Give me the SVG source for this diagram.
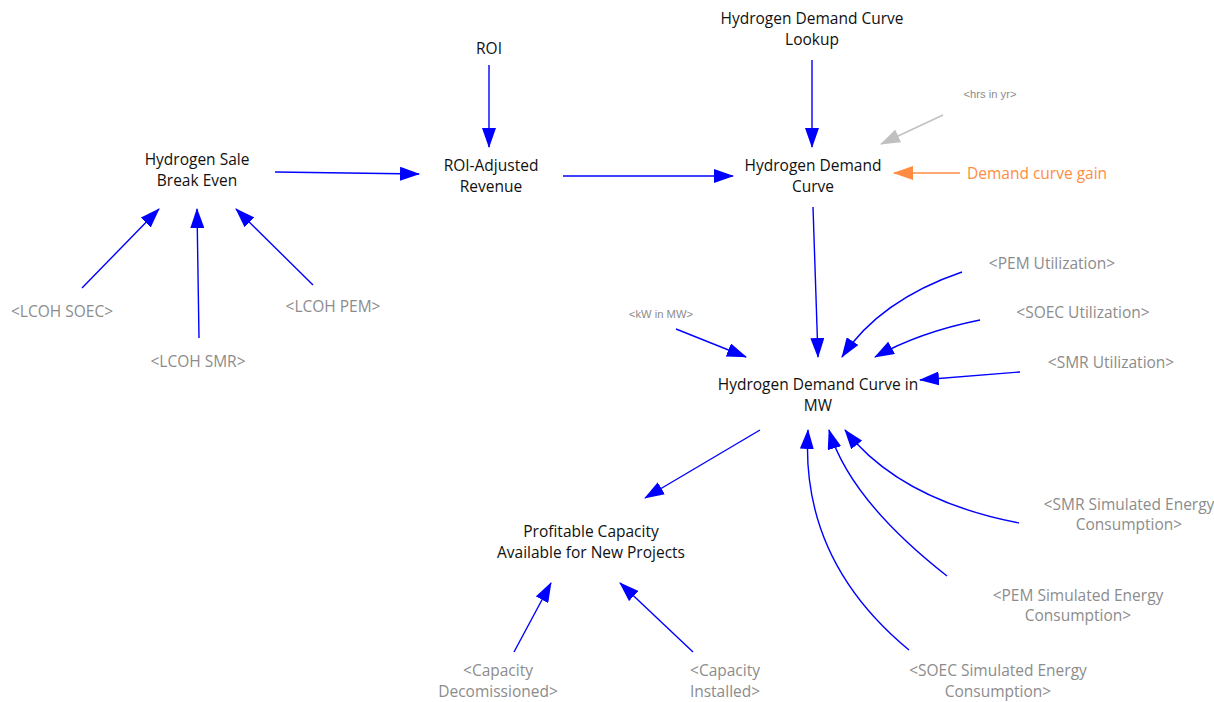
<svg xmlns="http://www.w3.org/2000/svg" width="1214" height="702" viewBox="0 0 1214 702">
<defs>
<style>
.t{font-family:"Open Sans","Liberation Sans",sans-serif;font-size:15.5px;fill:#111;text-anchor:middle}
.g{font-family:"Open Sans","Liberation Sans",sans-serif;font-size:15.5px;fill:#8c8c8c;text-anchor:middle}
.s{font-family:"Liberation Sans",Arial,sans-serif;font-size:11.2px;fill:#8c8c8c;text-anchor:middle}
.o{font-family:"Open Sans","Liberation Sans",sans-serif;font-size:15.5px;fill:#ff8c42;text-anchor:start}
.c{fill:none;stroke:#0000ff;stroke-width:1.4;marker-end:url(#ab)}
.cg{fill:none;stroke:#c0c0c0;stroke-width:1.4;marker-end:url(#ag)}
.co{fill:none;stroke:#ff8c42;stroke-width:1.4;marker-end:url(#ao)}
</style>
<marker id="ab" viewBox="0 0 20 14" refX="19" refY="7" markerWidth="20" markerHeight="14" markerUnits="userSpaceOnUse" orient="auto"><path d="M0,0 L20,7 L0,14 Z" fill="#0000ff"/></marker>
<marker id="ag" viewBox="0 0 20 14" refX="19" refY="7" markerWidth="20" markerHeight="14" markerUnits="userSpaceOnUse" orient="auto"><path d="M0,0 L20,7 L0,14 Z" fill="#c0c0c0"/></marker>
<marker id="ao" viewBox="0 0 20 14" refX="19" refY="7" markerWidth="20" markerHeight="14" markerUnits="userSpaceOnUse" orient="auto"><path d="M0,0 L20,7 L0,14 Z" fill="#ff8c42"/></marker>
</defs>
<rect width="1214" height="702" fill="#fff"/>
<g id="connectors">
<path class="c" d="M489,65 L489,147"/>
<path class="c" d="M812,60 L812,147"/>
<path class="cg" d="M943,115 L881,144"/>
<path class="co" d="M960,173 L894,173"/>
<path class="c" d="M275,172 L419,174"/>
<path class="c" d="M563,176 L733,176"/>
<path class="c" d="M82,288 L159,209"/>
<path class="c" d="M199,338 L197,209"/>
<path class="c" d="M313,285 L236,209"/>
<path class="c" d="M813,207 L818,357"/>
<path class="c" d="M676,329 L746,357"/>
<path class="c" d="M962,272 Q880,300 842,357"/>
<path class="c" d="M980,320 Q920,332 875,357"/>
<path class="c" d="M1020,372 L920,380"/>
<path class="c" d="M760,430 L645,498"/>
<path class="c" d="M514,652 L551,583"/>
<path class="c" d="M693,652 L620,583"/>
<path class="c" d="M1019,523 Q900,500 845,430"/>
<path class="c" d="M947,576 Q850,500 829,430"/>
<path class="c" d="M909,650 Q800,560 808,430"/>
</g>
<g id="roi"><text class="t" x="489" y="54">ROI</text></g>
<g id="roi-adjusted-revenue"><text class="t" x="491" y="171">ROI-Adjusted</text><text class="t" x="491" y="192">Revenue</text></g>
<g id="demand-curve-lookup"><text class="t" x="812" y="24">Hydrogen Demand Curve</text><text class="t" x="812" y="45">Lookup</text></g>
<g id="demand-curve"><text class="t" x="813" y="171">Hydrogen Demand</text><text class="t" x="813" y="192">Curve</text></g>
<g id="hrs-in-yr"><text class="s" x="990" y="98">&lt;hrs in yr&gt;</text></g>
<g id="demand-curve-gain"><text class="o" x="967" y="179">Demand curve gain</text></g>
<g id="sale-break-even"><text class="t" x="197" y="165">Hydrogen Sale</text><text class="t" x="197" y="186">Break Even</text></g>
<g id="lcoh-soec"><text class="g" x="62" y="317">&lt;LCOH SOEC&gt;</text></g>
<g id="lcoh-smr"><text class="g" x="198" y="367">&lt;LCOH SMR&gt;</text></g>
<g id="lcoh-pem"><text class="g" x="333" y="312">&lt;LCOH PEM&gt;</text></g>
<g id="demand-mw"><text class="t" x="818" y="390">Hydrogen Demand Curve in</text><text class="t" x="818" y="411">MW</text></g>
<g id="kw-in-mw"><text class="s" x="661" y="318">&lt;kW in MW&gt;</text></g>
<g id="pem-util"><text class="g" x="1052" y="269">&lt;PEM Utilization&gt;</text></g>
<g id="soec-util"><text class="g" x="1083" y="318">&lt;SOEC Utilization&gt;</text></g>
<g id="smr-util"><text class="g" x="1111" y="368">&lt;SMR Utilization&gt;</text></g>
<g id="profitable"><text class="t" x="591" y="537">Profitable Capacity</text><text class="t" x="591" y="558">Available for New Projects</text></g>
<g id="cap-decom"><text class="g" x="498" y="676">&lt;Capacity</text><text class="g" x="498" y="697">Decomissioned&gt;</text></g>
<g id="cap-inst"><text class="g" x="725" y="676">&lt;Capacity</text><text class="g" x="725" y="697">Installed&gt;</text></g>
<g id="smr-sim"><text class="g" x="1129" y="510">&lt;SMR Simulated Energy</text><text class="g" x="1129" y="530">Consumption&gt;</text></g>
<g id="pem-sim"><text class="g" x="1078" y="601">&lt;PEM Simulated Energy</text><text class="g" x="1078" y="621">Consumption&gt;</text></g>
<g id="soec-sim"><text class="g" x="998" y="676">&lt;SOEC Simulated Energy</text><text class="g" x="998" y="697">Consumption&gt;</text></g>
</svg>
